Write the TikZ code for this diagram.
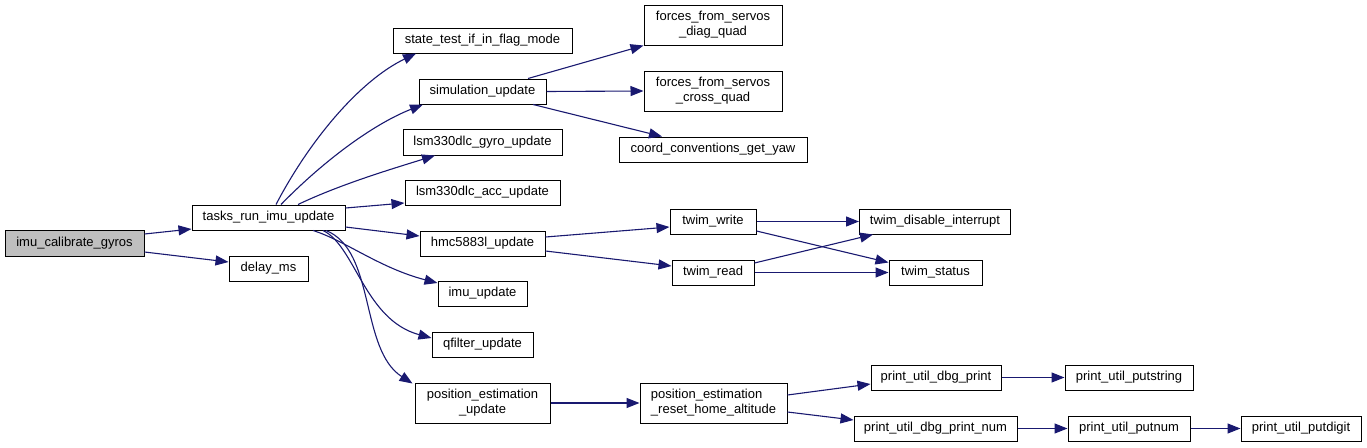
\documentclass[tikz,border=0pt]{standalone}
\usepackage{fontspec}
\setmainfont{Liberation Sans}
\usetikzlibrary{arrows.meta}
\definecolor{edgeblue}{HTML}{191970}
\definecolor{grayfill}{HTML}{BFBFBF}
\tikzset{
  box/.style={draw=black, line width=1pt, inner sep=0pt, minimum height=25pt,
    font=\fontsize{13}{15}\selectfont, anchor=center, fill=white},
  tallbox/.style={box, minimum height=40pt},
  call/.style={draw=edgeblue, line width=1.1pt, -{Triangle[length=13pt,width=10pt]}, edgeblue}
}
\begin{document}
\begin{tikzpicture}[x=1pt,y=-1pt]
\useasboundingbox (0,0) rectangle (1367,447);
% nodes
\node[box, fill=grayfill, minimum width=139pt, minimum height=26pt] (calib) at (74.5,243) {imu\_calibrate\_gyros};
\node[box, minimum width=153pt] (tasks) at (268.5,217.5) {tasks\_run\_imu\_update};
\node[box, minimum width=79pt] (delay) at (268.5,268.5) {delay\_ms};
\node[box, minimum width=179pt] (state) at (482.5,40.5) {state\_test\_if\_in\_flag\_mode};
\node[box, minimum width=127pt] (sim) at (482.5,91.5) {simulation\_update};
\node[box, minimum width=159pt, minimum height=26pt] (gyro) at (482.5,142) {lsm330dlc\_gyro\_update};
\node[box, minimum width=155pt] (acc) at (482.5,192.5) {lsm330dlc\_acc\_update};
\node[box, minimum width=125pt] (hmc) at (482.5,243.5) {hmc5883l\_update};
\node[box, minimum width=89pt] (imu) at (482.5,293.5) {imu\_update};
\node[box, minimum width=101pt] (qf) at (482.5,344.5) {qfilter\_update};
\node[tallbox, minimum width=135pt, align=center] (pos) at (482.5,403) {position\_estimation\\\_update};
\node[tallbox, minimum width=138pt, align=center] (diag) at (713,25) {forces\_from\_servos\\\_diag\_quad};
\node[tallbox, minimum width=138pt, align=center] (cross) at (713,91) {forces\_from\_servos\\\_cross\_quad};
\node[box, minimum width=188pt] (yaw) at (713,149.5) {coord\_conventions\_get\_yaw};
\node[box, minimum width=86pt] (write) at (713,221.5) {twim\_write};
\node[box, minimum width=82pt] (read) at (713,272.5) {twim\_read};
\node[tallbox, minimum width=147pt, align=left] (reset) at (713.5,403) {position\_estimation\\\_reset\_home\_altitude};
\node[box, minimum width=151pt] (dis) at (935,221.5) {twim\_disable\_interrupt};
\node[box, minimum width=93pt] (status) at (935.5,272.5) {twim\_status};
\node[box, minimum width=130pt] (dbgp) at (936,377.5) {print\_util\_dbg\_print};
\node[box, minimum width=163pt] (dbgn) at (935.5,428.5) {print\_util\_dbg\_print\_num};
\node[box, minimum width=128pt] (pstr) at (1129,377.5) {print\_util\_putstring};
\node[box, minimum width=122pt] (pnum) at (1129,428.5) {print\_util\_putnum};
\node[box, minimum width=120pt] (pdig) at (1301,428.5) {print\_util\_putdigit};
% edges
\draw[call] ([yshift=9pt]calib.east) -- ([yshift=-11.5pt]tasks.west);
\draw[call] ([yshift=-9pt]calib.east) -- ([yshift=6.5pt]delay.west);
\draw[call] ([xshift=7.5pt]tasks.north) .. controls +(34,-65) and +(-56,27) .. ([xshift=-66.5pt]state.south);
\draw[call] ([xshift=12.5pt]tasks.north) .. controls +(39,-40) and +(-53,21) .. ([xshift=-59.5pt]sim.south);
\draw[call] ([xshift=29.5pt]tasks.north) .. controls +(42,-20) and +(-45,14) .. ([xshift=-47.5pt]gyro.south);
\draw[call] ([yshift=9.5pt]tasks.east) -- ([yshift=-10.5pt]acc.west);
\draw[call] ([yshift=-9.5pt]tasks.east) -- ([yshift=7.5pt]hmc.west);
\draw[call] ([xshift=44.5pt]tasks.south) .. controls +(32,10) and +(-58,-15) .. ([yshift=10.5pt]imu.west);
\draw[call] ([xshift=54.5pt]tasks.south) .. controls +(32,15) and +(-67,-18) .. ([yshift=6.5pt]qf.west);
\draw[call] ([xshift=57.5pt]tasks.south) .. controls +(50,20) and +(-53,-34) .. ([xshift=-2pt,yshift=-1pt]pos.north west);
\draw[call] ([xshift=45.5pt]sim.north) -- (diag.south west);
\draw[call] (sim.east) -- (cross.west);
\draw[call] ([xshift=50.5pt]sim.south) -- ([xshift=-51pt]yaw.north);
\draw[call] ([yshift=6.5pt]hmc.east) -- ([yshift=-5.5pt]write.west);
\draw[call] ([yshift=-7.5pt]hmc.east) -- ([yshift=6.5pt]read.west);
\draw[call] (write.east) -- (dis.west);
\draw[call] ([yshift=-9.5pt]write.east) -- ([yshift=-3pt]status.north west);
\draw[call] ([yshift=9.5pt]read.east) -- ([xshift=14pt]dis.south west);
\draw[call] (read.east) -- (status.west);
\draw[call] (pos.east) -- (reset.west);
\draw[call] ([yshift=8pt]reset.east) -- ([yshift=-6.5pt]dbgp.west);
\draw[call] ([yshift=-9pt]reset.east) -- ([yshift=8.5pt]dbgn.west);
\draw[call] (dbgp.east) -- (pstr.west);
\draw[call] (dbgn.east) -- (pnum.west);
\draw[call] (pnum.east) -- (pdig.west);
\end{tikzpicture}
\end{document}
